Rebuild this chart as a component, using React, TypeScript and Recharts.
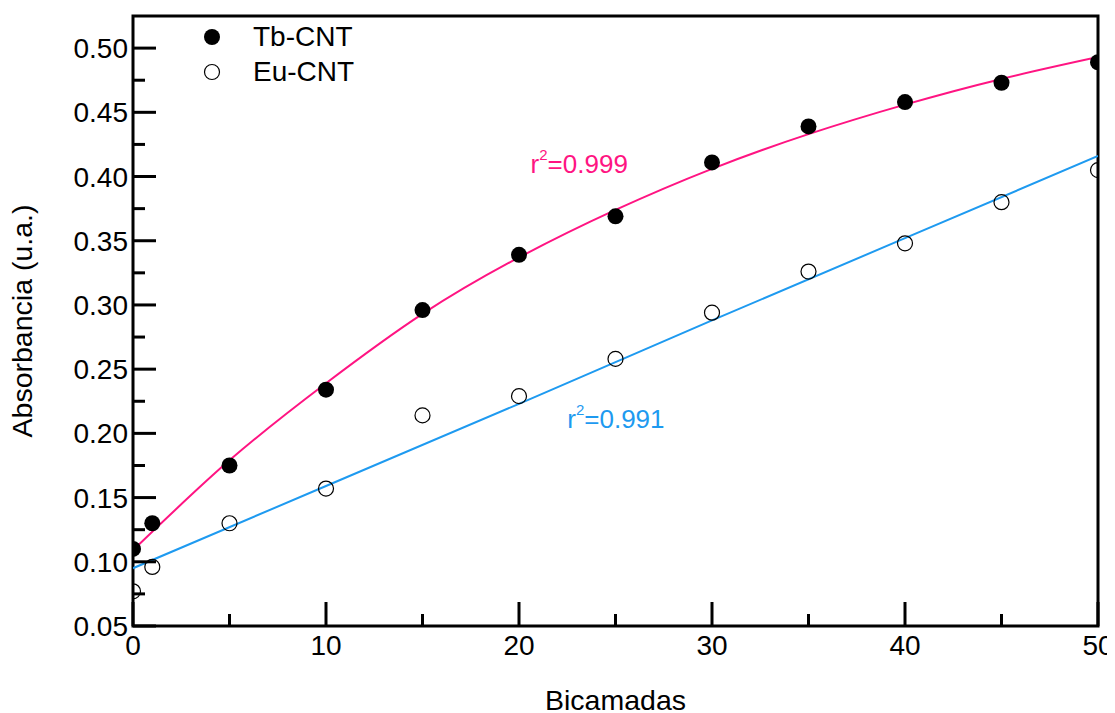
import React from "react";
import {
  ComposedChart,
  Scatter,
  Line,
  XAxis,
  YAxis,
  ReferenceArea,
  ReferenceDot,
  Legend,
} from "recharts";

const FONT = "'Liberation Sans', Arial, sans-serif";
const PINK = "#FF1482";
const BLUE = "#1E9AF0";

// bicamadas (x) y absorbancia medida
const bilayers = [0, 1, 5, 10, 15, 20, 25, 30, 35, 40, 45, 50];
const tbAbs = [0.11, 0.13, 0.175, 0.234, 0.296, 0.339, 0.369, 0.411, 0.439, 0.458, 0.473, 0.489];
const euAbs = [0.077, 0.096, 0.13, 0.157, 0.214, 0.229, 0.258, 0.294, 0.326, 0.348, 0.38, 0.405];

// curvas de ajuste
const tbFitX = [0, 5, 10, 15, 20, 25, 30, 35, 40, 45, 50];
const tbFit = [0.109, 0.179, 0.239, 0.293, 0.337, 0.374, 0.406, 0.433, 0.456, 0.476, 0.493];
const euFitX = [0, 10, 20, 30, 40, 50];
const euFit = [0.095, 0.159, 0.223, 0.288, 0.352, 0.416];

const xTicks = [0, 5, 10, 15, 20, 25, 30, 35, 40, 45, 50];
const yTicks = [
  0.05, 0.075, 0.1, 0.125, 0.15, 0.175, 0.2, 0.225, 0.25, 0.275, 0.3, 0.325, 0.35,
  0.375, 0.4, 0.425, 0.45, 0.475, 0.5,
];

const tbData = bilayers.map((x, i) => ({ x, y: tbAbs[i] }));
const euData = bilayers.map((x, i) => ({ x, y: euAbs[i] }));
const tbFitData = tbFitX.map((x, i) => ({ x, y: tbFit[i] }));
const euFitData = euFitX.map((x, i) => ({ x, y: euFit[i] }));

function XTick({ x, y, payload }: any) {
  const v = payload.value as number;
  const major = v % 10 === 0;
  return (
    <g>
      <line x1={x} y1={y} x2={x} y2={y - (major ? 24 : 12)} stroke="#000" strokeWidth={3} />
      {major && (
        <text x={x} y={y + 29} textAnchor="middle" fontSize={28} fontFamily={FONT} fill="#000">
          {v}
        </text>
      )}
    </g>
  );
}

function YTick({ x, y, payload }: any) {
  const v = payload.value as number;
  const major = Math.abs(v * 20 - Math.round(v * 20)) < 1e-6;
  return (
    <g>
      <line x1={x} y1={y} x2={x + (major ? 23 : 12)} y2={y} stroke="#000" strokeWidth={3} />
      {major && (
        <text x={x - 5} y={y + 10} textAnchor="end" fontSize={28} fontFamily={FONT} fill="#000">
          {v.toFixed(2)}
        </text>
      )}
    </g>
  );
}

const filledDot = (p: any) => <circle cx={p.cx} cy={p.cy} r={8} fill="#000" />;
const openDot = (p: any) => (
  <circle cx={p.cx} cy={p.cy} r={7.5} fill="none" stroke="#000" strokeWidth={1.2} />
);

function fitLabel(text: string, color: string) {
  return (props: any) => {
    const { x, y } = props.viewBox;
    return (
      <text x={x} y={y} fill={color} fontSize={26} fontFamily={FONT}>
        <tspan>r</tspan>
        <tspan dy={-13} fontSize={15}>2</tspan>
        <tspan dy={13}>{text}</tspan>
      </text>
    );
  };
}

function LegendBox() {
  const rows = [
    { name: "Tb-CNT", filled: true },
    { name: "Eu-CNT", filled: false },
  ];
  return (
    <div style={{ fontFamily: FONT, fontSize: 28, color: "#000" }}>
      {rows.map((r) => (
        <div key={r.name} style={{ display: "flex", alignItems: "center", height: 35 }}>
          <svg width={20} height={20}>
            {r.filled ? (
              <circle cx={10} cy={10} r={8} fill="#000" />
            ) : (
              <circle cx={10} cy={10} r={7.5} fill="none" stroke="#000" strokeWidth={1.2} />
            )}
          </svg>
          <span style={{ marginLeft: 31 }}>{r.name}</span>
        </div>
      ))}
    </div>
  );
}

export default function App() {
  return (
    <ComposedChart
      width={1107}
      height={705}
      margin={{ top: 8, right: 17, bottom: 0, left: 0 }}
      style={{ fontFamily: FONT }}
    >
      <XAxis
        type="number"
        dataKey="x"
        domain={[0, 50]}
        ticks={xTicks}
        allowDataOverflow
        height={87}
        axisLine={false}
        tickLine={false}
        tickSize={0}
        tickMargin={0}
        tick={<XTick />}
        interval={0}
        label={{
          value: "Bicamadas",
          position: "insideBottom",
          offset: 3,
          fontSize: 28.5,
          fill: "#000",
          fontFamily: FONT,
        }}
      />
      <YAxis
        type="number"
        dataKey="y"
        domain={[0.05, 0.525]}
        ticks={yTicks}
        allowDataOverflow
        width={125}
        axisLine={false}
        tickLine={false}
        tickSize={0}
        tickMargin={0}
        tick={<YTick />}
        interval={0}
        label={{
          value: "Absorbancia (u.a.)",
          angle: -90,
          position: "insideLeft",
          offset: 14,
          fontSize: 28.5,
          fill: "#000",
          fontFamily: FONT,
          style: { textAnchor: "middle" },
        }}
      />
      <Legend
        layout="vertical"
        align="center"
        verticalAlign="middle"
        content={<LegendBox />}
        wrapperStyle={{ position: "absolute", left: 194, top: 11, width: "auto" }}
      />
      <Scatter name="Tb-CNT" data={tbData} shape={filledDot} isAnimationActive={false} />
      <Scatter name="Eu-CNT" data={euData} shape={openDot} isAnimationActive={false} />
      <Line
        data={tbFitData}
        dataKey="y"
        type="natural"
        stroke={PINK}
        strokeWidth={2}
        dot={false}
        activeDot={false}
        isAnimationActive={false}
        legendType="none"
      />
      <Line
        data={euFitData}
        dataKey="y"
        type="linear"
        stroke={BLUE}
        strokeWidth={2}
        dot={false}
        activeDot={false}
        isAnimationActive={false}
        legendType="none"
      />
      <ReferenceDot x={20.6} y={0.4027} r={0} fill="none" stroke="none" label={fitLabel("=0.999", PINK)} />
      <ReferenceDot x={22.5} y={0.2041} r={0} fill="none" stroke="none" label={fitLabel("=0.991", BLUE)} />
      <ReferenceArea x1={0} x2={50} y1={0.05} y2={0.525} fill="none" stroke="#000" strokeWidth={3} />
    </ComposedChart>
  );
}
